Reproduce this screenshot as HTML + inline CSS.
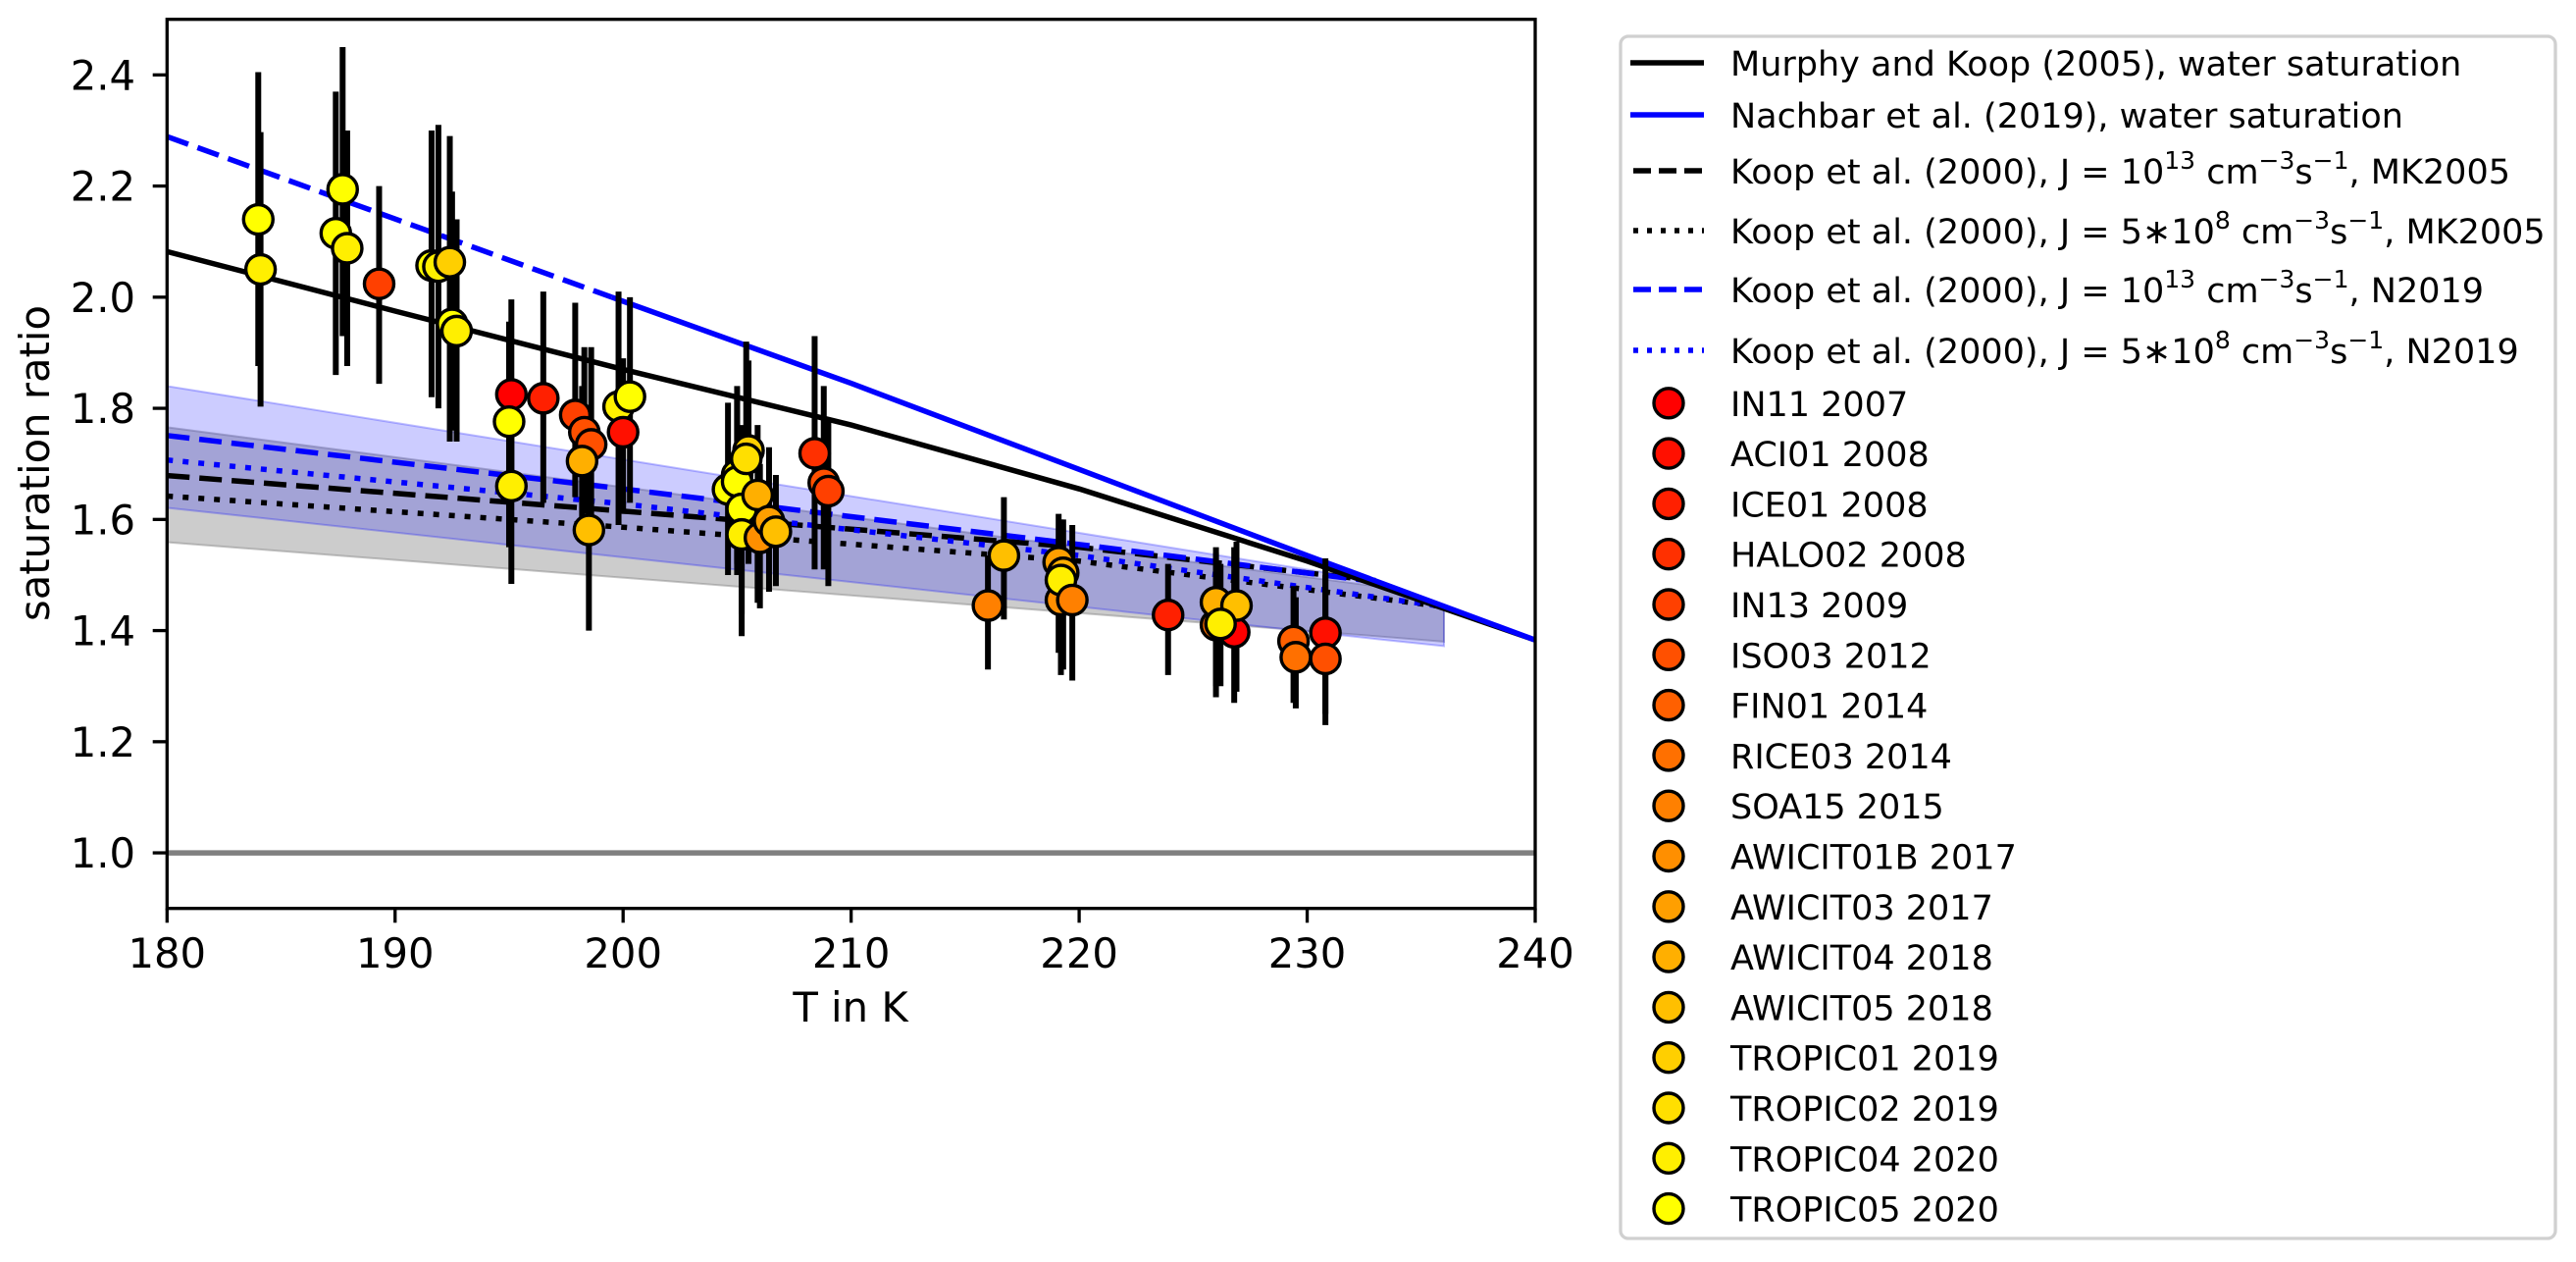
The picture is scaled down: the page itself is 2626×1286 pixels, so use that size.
<!DOCTYPE html>
<html><head><meta charset="utf-8"><style>
html,body{margin:0;padding:0;background:#fff}
svg{display:block;font-family:"DejaVu Sans","Liberation Sans",sans-serif}
</style></head><body>
<svg id="chart" width="2626" height="1286" viewBox="0 0 2626 1286">
<g id="bands"></g>
<g id="lines"></g>
<g id="points"></g>
<g id="axes"></g>
<g id="legend"></g>
</svg>
<script>
// ---- data ----
const campaigns = ["IN11 2007","ACI01 2008","ICE01 2008","HALO02 2008","IN13 2009","ISO03 2012","FIN01 2014","RICE03 2014","SOA15 2015","AWICIT01B 2017","AWICIT03 2017","AWICIT04 2018","AWICIT05 2018","TROPIC01 2019","TROPIC02 2019","TROPIC04 2020","TROPIC05 2020"];
const xTicks = [180,190,200,210,220,230,240];
const yTicks = [1.0,1.2,1.4,1.6,1.8,2.0,2.2,2.4];
// model lines: [T, S] pairs
const mkWaterT = [180,190,200,210,220,230,240];
const mkWaterS = [2.082,1.975,1.87,1.77,1.655,1.525,1.383];
const nbWaterT = [199.5,210,220,230,240];
const nbWaterS = [2.0,1.845,1.69,1.535,1.383];
const nbExtrapT = [180,199.5];
const nbExtrapS = [2.289,2.0];
const koopMkHiT = [180,200,220,233];
const koopMkHiS = [1.679,1.615,1.55,1.49];
const koopMkLoT = [180,200,220,236];
const koopMkLoS = [1.642,1.586,1.525,1.443];
const koopNHiT = [180,200,220,233];
const koopNHiS = [1.751,1.655,1.555,1.488];
const koopNLoT = [180,200,220,236];
const koopNLoS = [1.707,1.628,1.535,1.443];
// bands
const bandT = [180,233,236];
const blueBandTop = [1.840,1.49,1.445];
const blueBandBot = [1.621,1.385,1.372];
const grayBandTop = [1.766,1.48,1.44];
const grayBandBot = [1.559,1.39,1.38];
// measurements
const ptT  = [184.0,184.1,187.4,187.7,187.9,189.3,191.6,191.9,192.4,192.5,192.7,195.1,195.0,195.1,196.5,197.9,198.3,198.6,198.2,198.5,199.8,200.3,200.0,204.6,205.0,205.0,205.5,205.4,205.2,205.2,205.9,206.0,206.4,206.7,208.4,208.8,209.0,216.0,216.7,219.1,219.3,219.2,219.2,219.7,223.9,226.0,226.0,226.8,226.9,226.2,229.4,229.5,230.8,230.8];
const ptS  = [2.14,2.05,2.115,2.194,2.088,2.024,2.057,2.055,2.063,1.952,1.939,1.825,1.776,1.66,1.818,1.788,1.757,1.735,1.705,1.581,1.803,1.821,1.757,1.654,1.68,1.668,1.724,1.709,1.619,1.573,1.644,1.567,1.597,1.578,1.719,1.666,1.651,1.445,1.535,1.523,1.504,1.455,1.491,1.455,1.428,1.41,1.451,1.397,1.445,1.412,1.381,1.352,1.396,1.349];
const ptHi = [2.405,2.297,2.37,2.45,2.30,2.20,2.30,2.31,2.29,2.19,2.14,1.996,1.956,1.75,2.01,1.99,1.91,1.91,1.84,1.71,2.01,2.0,1.89,1.81,1.84,1.82,1.886,1.92,1.77,1.72,1.77,1.70,1.73,1.68,1.93,1.84,1.78,1.535,1.64,1.61,1.60,1.58,1.60,1.59,1.52,1.54,1.55,1.55,1.56,1.52,1.48,1.46,1.53,1.50];
const ptLo = [1.876,1.803,1.86,1.93,1.876,1.844,1.82,1.80,1.74,1.76,1.74,1.666,1.55,1.484,1.63,1.64,1.61,1.59,1.58,1.40,1.59,1.63,1.61,1.50,1.52,1.50,1.52,1.55,1.43,1.39,1.45,1.44,1.47,1.48,1.51,1.51,1.48,1.33,1.42,1.36,1.33,1.32,1.36,1.31,1.32,1.28,1.30,1.27,1.29,1.30,1.27,1.26,1.25,1.23];
const ptCamp = [16,15,16,16,15,4,16,15,13,16,15,0,16,15,2,4,5,5,11,12,15,16,1,16,15,16,13,14,16,15,11,9,10,12,3,5,4,8,12,10,11,9,15,8,2,7,11,0,12,15,6,7,1,5];

// ---- scales ----
const X0=170.3, X1=1565, Y0=925.7, Y1=19.7;
const xs = t => X0 + (t-180)/(240-180)*(X1-X0);
const ys = s => Y0 - (s-0.9)/(2.5-0.9)*(Y0-Y1);
const NS="http://www.w3.org/2000/svg";
function mk(tag, attrs, parent){const e=document.createElementNS(NS,tag);for(const k in attrs)e.setAttribute(k,attrs[k]);parent.appendChild(e);return e;}
function color(i){const g=Math.round(255*i/16);return `rgb(255,${g},0)`;}

// bands
const gB=document.getElementById('bands');
function band(top,bot,fill,stroke,name){
  let d='M'+bandT.map((t,i)=>xs(t)+','+ys(top[i])).join('L');
  d+='L'+bandT.slice().reverse().map((t,i)=>xs(t)+','+ys(bot[bot.length-1-i])).join('L')+'Z';
  const p=mk('path',{d:d,fill:fill,stroke:stroke,'stroke-width':2},gB);
  
  
}
band(grayBandTop,grayBandBot,'rgba(128,128,128,0.4)','rgba(128,128,128,0.45)','mk2005-band');
band(blueBandTop,blueBandBot,'rgba(0,0,255,0.2)','rgba(0,0,255,0.25)','n2019-band');

// lines
const gL=document.getElementById('lines');
const oneLine=mk('line',{x1:X0,x2:X1,y1:ys(1.0),y2:ys(1.0),stroke:'#808080','stroke-width':5.5},gL);


function line(T,S,col,dash,name){
  const p=mk('polyline',{points:T.map((t,i)=>xs(t)+','+ys(S[i])).join(' '),fill:'none',stroke:col,'stroke-width':5.5,'stroke-dasharray':dash||'none'},gL);
  
  
}
line(koopMkLoT,koopMkLoS,'#000','6 10','koop-5e8-mk2005');
line(koopMkHiT,koopMkHiS,'#000','23 10','koop-1e13-mk2005');
line(koopNLoT,koopNLoS,'#00f','6 10','koop-5e8-n2019');
line(koopNHiT,koopNHiS,'#00f','23 10','koop-1e13-n2019');
line(mkWaterT,mkWaterS,'#000',null,'murphy-koop-water');
line(nbWaterT,nbWaterS,'#00f',null,'nachbar-water');
line(nbExtrapT,nbExtrapS,'#00f','23 10','nachbar-water-extrapolated');

// points
const gP=document.getElementById('points');
ptT.forEach((t,i)=>{
  const b=mk('line',{x1:xs(t),x2:xs(t),y1:ys(ptHi[i]),y2:ys(ptLo[i]),stroke:'#000','stroke-width':6},gP);
  
  
});
ptT.forEach((t,i)=>{
  const c=mk('circle',{cx:xs(t),cy:ys(ptS[i]),r:15,fill:color(ptCamp[i]),stroke:'#000','stroke-width':3.4},gP);
  
  
});

// axes
const gA=document.getElementById('axes');
const frame=mk('rect',{x:X0,y:Y1,width:X1-X0,height:Y0-Y1,fill:'none',stroke:'#000','stroke-width':3.3},gA);


xTicks.forEach(t=>{
  mk('line',{x1:xs(t),x2:xs(t),y1:Y0,y2:Y0+14.6,stroke:'#000','stroke-width':3.3},gA);
  const tx=mk('text',{x:xs(t),y:986,'font-size':41.7,'text-anchor':'middle'},gA);
  tx.textContent=t;
  
  
});
yTicks.forEach(s=>{
  mk('line',{x1:X0-14.6,x2:X0,y1:ys(s),y2:ys(s),stroke:'#000','stroke-width':3.3},gA);
  const tx=mk('text',{x:138,y:ys(s)+15,'font-size':41.7,'text-anchor':'end'},gA);
  tx.textContent=s.toFixed(1);
  
  
});
</script>
<svg style="position:absolute;left:0;top:0" width="2626" height="1286">
<text x="867" y="1041" font-size="41.7" text-anchor="middle" font-family="DejaVu Sans, Liberation Sans, sans-serif">T in K</text>
<text transform="translate(50,472) rotate(-90)" font-size="41.7" text-anchor="middle" font-family="DejaVu Sans, Liberation Sans, sans-serif">saturation ratio</text>
<g font-family="DejaVu Sans, Liberation Sans, sans-serif" font-size="35">
<rect x="1652" y="37" width="953" height="1225" rx="8" fill="#fff" stroke="#d0d0d0" stroke-width="3.3"/>
<line x1="1662" x2="1737" y1="64" y2="64" stroke="#000" stroke-width="5.5"/>
<text x="1764" y="77">Murphy and Koop (2005), water saturation</text>
<line x1="1662" x2="1737" y1="117" y2="117" stroke="#00f" stroke-width="5.5"/>
<text x="1764" y="130">Nachbar et al. (2019), water saturation</text>
<line x1="1665" x2="1737" y1="174" y2="174" stroke="#000" stroke-width="5.5" stroke-dasharray="18 8"/>
<text x="1764" y="187">Koop et al. (2000), J = 10<tspan font-size="25" dy="-15">13</tspan><tspan dy="15"> cm</tspan><tspan font-size="25" dy="-15">−3</tspan><tspan dy="15">s</tspan><tspan font-size="25" dy="-15">−1</tspan><tspan dy="15">, MK2005</tspan></text>
<line x1="1665" x2="1737" y1="235" y2="235" stroke="#000" stroke-width="5.5" stroke-dasharray="5 9"/>
<text x="1764" y="248">Koop et al. (2000), J = 5∗10<tspan font-size="25" dy="-15">8</tspan><tspan dy="15"> cm</tspan><tspan font-size="25" dy="-15">−3</tspan><tspan dy="15">s</tspan><tspan font-size="25" dy="-15">−1</tspan><tspan dy="15">, MK2005</tspan></text>
<line x1="1665" x2="1737" y1="295" y2="295" stroke="#00f" stroke-width="5.5" stroke-dasharray="18 8"/>
<text x="1764" y="308">Koop et al. (2000), J = 10<tspan font-size="25" dy="-15">13</tspan><tspan dy="15"> cm</tspan><tspan font-size="25" dy="-15">−3</tspan><tspan dy="15">s</tspan><tspan font-size="25" dy="-15">−1</tspan><tspan dy="15">, N2019</tspan></text>
<line x1="1665" x2="1737" y1="357" y2="357" stroke="#00f" stroke-width="5.5" stroke-dasharray="5 9"/>
<text x="1764" y="370">Koop et al. (2000), J = 5∗10<tspan font-size="25" dy="-15">8</tspan><tspan dy="15"> cm</tspan><tspan font-size="25" dy="-15">−3</tspan><tspan dy="15">s</tspan><tspan font-size="25" dy="-15">−1</tspan><tspan dy="15">, N2019</tspan></text>
<g id="legendMarkers"></g>
</g>
</svg>
<script>
(function(){
  const g=document.getElementById('legendMarkers');
  campaigns.forEach((name,i)=>{
    const cy=410.8+i*51.3;
    const c=mk('circle',{cx:1701,cy:cy,r:15,fill:color(i),stroke:'#000','stroke-width':3.4},g);
    
    
    const t=mk('text',{x:1764,y:cy+13},g);
    t.textContent=name;
    
    
  });
})();
</script>
</body></html>
